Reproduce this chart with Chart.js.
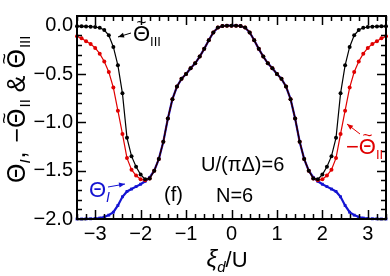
<!DOCTYPE html>
<html><head><meta charset="utf-8">
<script src="https://cdn.jsdelivr.net/npm/chart.js@4.4.0/dist/chart.umd.min.js"></script>
<style>html,body{margin:0;padding:0;background:#fff;}canvas{display:block}</style>
</head><body>
<canvas id="c" width="390" height="276"></canvas>
<script>
// xi_d / U grid
const xi = [-3.4,-3.3,-3.2,-3.1,-3.0,-2.9,-2.8,-2.7,-2.6,-2.5,-2.4,-2.3,-2.2,-2.1,-2.0,-1.9,-1.8,-1.7,-1.6,-1.5,-1.4,-1.3,-1.2,-1.1,-1.0,-0.9,-0.8,-0.7,-0.6,-0.5,-0.4,-0.3,-0.2,-0.1,0,
  0.1,0.2,0.3,0.4,0.5,0.6,0.7,0.8,0.9,1.0,1.1,1.2,1.3,1.4,1.5,1.6,1.7,1.8,1.9,2.0,2.1,2.2,2.3,2.4,2.5,2.6,2.7,2.8,2.9,3.0,3.1,3.2,3.3,3.4];
// Theta~_III (black)
const thetaIII = [-0.005,-0.006,-0.008,-0.010,-0.014,-0.022,-0.045,-0.10,-0.22,-0.41,-0.70,-1.16,-1.35,-1.46,-1.54,-1.59,-1.58,-1.50,-1.38,-1.20,-0.96,-0.76,-0.63,-0.55,-0.50,-0.44,-0.39,-0.32,-0.24,-0.15,-0.07,-0.02,-0.004,0.0,0.0,
  0.0,-0.004,-0.02,-0.07,-0.15,-0.24,-0.32,-0.39,-0.44,-0.50,-0.55,-0.63,-0.76,-0.96,-1.20,-1.38,-1.50,-1.58,-1.59,-1.54,-1.46,-1.35,-1.16,-0.70,-0.41,-0.22,-0.10,-0.045,-0.022,-0.014,-0.010,-0.008,-0.006,-0.005];
// -Theta~_II (red)
const negThetaII = [-0.11,-0.13,-0.16,-0.19,-0.23,-0.29,-0.37,-0.48,-0.64,-0.88,-1.12,-1.37,-1.49,-1.55,-1.59,-1.60,-1.58,-1.50,-1.38,-1.20,-0.96,-0.76,-0.63,-0.55,-0.50,-0.44,-0.39,-0.32,-0.24,-0.15,-0.07,-0.02,-0.004,0.0,0.0,
  0.0,-0.004,-0.02,-0.07,-0.15,-0.24,-0.32,-0.39,-0.44,-0.50,-0.55,-0.63,-0.76,-0.96,-1.20,-1.38,-1.50,-1.58,-1.60,-1.59,-1.55,-1.49,-1.37,-1.12,-0.88,-0.64,-0.48,-0.37,-0.29,-0.23,-0.19,-0.16,-0.13,-0.11];
// Theta_I (blue)
const thetaI = [-2.0,-2.0,-1.999,-1.998,-1.995,-1.99,-1.98,-1.96,-1.93,-1.86,-1.77,-1.715,-1.69,-1.665,-1.64,-1.61,-1.57,-1.50,-1.38,-1.20,-0.96,-0.76,-0.63,-0.55,-0.50,-0.44,-0.39,-0.32,-0.24,-0.15,-0.07,-0.02,-0.004,0.0,0.0,
  0.0,-0.004,-0.02,-0.07,-0.15,-0.24,-0.32,-0.39,-0.44,-0.50,-0.55,-0.63,-0.76,-0.96,-1.20,-1.38,-1.50,-1.57,-1.61,-1.64,-1.665,-1.69,-1.715,-1.77,-1.86,-1.93,-1.96,-1.98,-1.99,-1.995,-1.998,-1.999,-2.0,-2.0];

const xTickValues = [-3,-2,-1,0,1,2,3];
const xTickLabels = ['\u22123','\u22122','\u22121','0','1','2','3'];
const yTickValues = [0,-0.5,-1,-1.5,-2];
const yTickLabels = ['0.0','\u22120.5','\u22121.0','\u22121.5','\u22122.0'];

const FONT = "'Liberation Sans', Arial, sans-serif";
const RED = '#e00000', BLUE = '#1414d2';

function pts(ys){ return xi.map((x,i)=>({x:x, y:ys[i]})); }

function drawRich(ctx, segs, x, y, align){
  let total = 0;
  segs.forEach(s=>{ ctx.font = (s.italic?'italic ':'') + s.size + 'px ' + FONT; s.w = ctx.measureText(s.t).width; total += s.w + (s.gap||0); });
  let cx = align==='center' ? x - total/2 : (align==='right' ? x - total : x);
  segs.forEach(s=>{
    ctx.font = (s.italic?'italic ':'') + s.size + 'px ' + FONT;
    ctx.fillStyle = s.color || '#000';
    ctx.textAlign = 'left';
    ctx.textBaseline = 'alphabetic';
    ctx.fillText(s.t, cx, y + (s.dy||0));
    if (s.tilde){
      ctx.font = Math.round(s.size*0.75) + 'px ' + FONT;
      ctx.textAlign = 'center';
      const tw = ctx.measureText(s.t.slice(-1)).width;
      ctx.font = (s.italic?'italic ':'') + s.size + 'px ' + FONT;
      const gw = ctx.measureText(s.t.slice(-1)).width;
      ctx.font = Math.round(s.size*0.75) + 'px ' + FONT;
      ctx.fillText('~', cx + s.w - gw/2, y - s.size*0.6);
    }
    cx += s.w + (s.gap||0);
  });
}

function arrow(ctx, x1,y1,x2,y2,color){
  ctx.save();
  ctx.strokeStyle = color; ctx.fillStyle = color; ctx.lineWidth = 1;
  ctx.beginPath(); ctx.moveTo(x1,y1); ctx.lineTo(x2,y2); ctx.stroke();
  const a = Math.atan2(y2-y1, x2-x1), L = 6, W = 2.5;
  ctx.beginPath();
  ctx.moveTo(x2,y2);
  ctx.lineTo(x2 - L*Math.cos(a) + W*Math.sin(a), y2 - L*Math.sin(a) - W*Math.cos(a));
  ctx.lineTo(x2 - L*Math.cos(a) - W*Math.sin(a), y2 - L*Math.sin(a) + W*Math.cos(a));
  ctx.closePath(); ctx.fill();
  ctx.restore();
}

const decor = {
  id: 'decor',
  afterDraw(chart){
    const ctx = chart.ctx, a = chart.chartArea, xs = chart.scales.x, ys = chart.scales.y;
    ctx.save();
    // frame
    ctx.strokeStyle = '#000'; ctx.lineWidth = 2;
    ctx.strokeRect(a.left, a.top, a.right - a.left, a.bottom - a.top);
    // ticks
    ctx.lineWidth = 1.5;
    ctx.beginPath();
    for (let i = -17; i <= 17; i++){
      const px = Math.round(xs.getPixelForValue(i*0.2)) + 0.5;
      const len = (i % 5 === 0) ? 9 : 5;
      ctx.moveTo(px, a.bottom); ctx.lineTo(px, a.bottom - len);
      ctx.moveTo(px, a.top); ctx.lineTo(px, a.top + len);
    }
    for (let j = 0; j <= 20; j++){
      const py = Math.round(ys.getPixelForValue(-j*0.1)) + 0.5;
      const len = (j % 5 === 0) ? 9 : 5;
      ctx.moveTo(a.left, py); ctx.lineTo(a.left + len, py);
      ctx.moveTo(a.right, py); ctx.lineTo(a.right - len, py);
    }
    ctx.stroke();

    // y axis title (rotated, reads bottom to top)
    ctx.save();
    ctx.translate(25, 183);
    ctx.rotate(-Math.PI/2);
    drawRich(ctx, [
      {t:'\u0398', size:25},
      {t:'I', size:15, italic:true, dy:5, gap:1},
      {t:', ', size:25, gap:2},
      {t:'\u2212\u0398', size:25, tilde:true, gap:1},
      {t:'II', size:15, dy:5},
      {t:' & ', size:25},
      {t:'\u0398', size:25, tilde:true, gap:1},
      {t:'III', size:15, dy:5}
    ], 0, 0, 'left');
    ctx.restore();

    // x axis title
    drawRich(ctx, [
      {t:'\u03BE', size:24, italic:true},
      {t:'d', size:15, italic:true, dy:5},
      {t:'/U', size:22}
    ], 227, 267, 'center');

    // annotations
    drawRich(ctx, [{t:'\u0398', size:22, tilde:true},{t:'III', size:13, dy:5}], 133, 41, 'left');
    arrow(ctx, 131, 33, 118, 37, '#000');

    drawRich(ctx, [{t:'\u2212\u0398', size:22, tilde:true, color:RED},{t:'II', size:13, dy:5, color:RED}], 346, 154, 'left');
    arrow(ctx, 360, 134, 347, 124, RED);

    drawRich(ctx, [{t:'\u0398', size:22, color:BLUE},{t:'I', size:14, italic:true, dy:5, color:BLUE}], 89, 197, 'left');
    arrow(ctx, 108, 187, 125, 184, BLUE);

    drawRich(ctx, [{t:'U/(\u03C0\u0394)=6', size:20}], 201, 171, 'left');
    drawRich(ctx, [{t:'N=6', size:20}], 216, 202, 'left');
    drawRich(ctx, [{t:'(f)', size:20}], 164, 201, 'left');
    ctx.restore();
  }
};

new Chart(document.getElementById('c'), {
  type: 'line',
  data: {
    datasets: [
      { label: 'Theta~III', data: pts(thetaIII), borderColor: '#000', backgroundColor: '#000', borderWidth: 1.2,
        pointRadius: 2, pointBorderWidth: 0, pointStyle: 'circle', order: 1, clip: 4 },
      { label: '-Theta~II', data: pts(negThetaII), borderColor: RED, backgroundColor: RED, borderWidth: 1.2,
        pointRadius: 2, pointBorderWidth: 0, pointStyle: 'circle', order: 2, clip: 4 },
      { label: 'ThetaI', data: pts(thetaI), borderColor: BLUE, backgroundColor: BLUE, borderWidth: 2.2,
        pointRadius: 2, pointBorderWidth: 0, pointStyle: 'rect', order: 3, clip: 4 }
    ]
  },
  options: {
    responsive: false,
    animation: false,
    layout: { padding: { top: 2, right: 2, left: 0, bottom: 0 } },
    plugins: { legend: { display: false }, tooltip: { enabled: false } },
    elements: { line: { tension: 0 } },
    scales: {
      x: {
        type: 'linear', min: -3.4, max: 3.4,
        grid: { display: false, drawTicks: false },
        border: { display: false },
        afterFit: s => { s.height = 57; },
        afterBuildTicks: s => { s.ticks = xTickValues.map(v => ({ value: v })); },
        ticks: { color: '#000', font: { family: FONT, size: 20 }, padding: 3, maxRotation: 0,
          callback: (v) => xTickLabels[xTickValues.indexOf(v)] }
      },
      y: {
        type: 'linear', min: -2.0, max: 0.1,
        grid: { display: false, drawTicks: false },
        border: { display: false },
        afterFit: s => { s.width = 77; },
        afterBuildTicks: s => { s.ticks = yTickValues.map(v => ({ value: v })); },
        ticks: { color: '#000', font: { family: FONT, size: 20 }, padding: 4,
          callback: (v) => yTickLabels[yTickValues.indexOf(v)] }
      }
    }
  },
  plugins: [decor]
});
</script>
</body></html>
